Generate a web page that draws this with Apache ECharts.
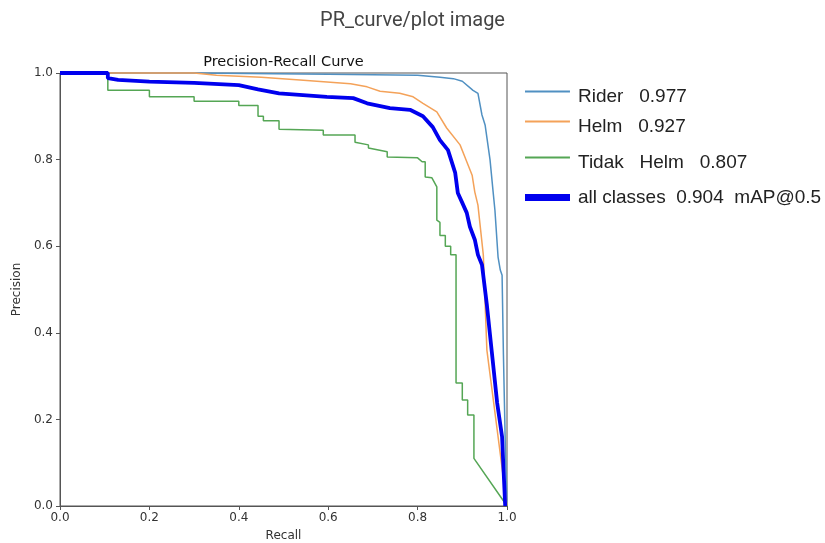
<!DOCTYPE html>
<html>
<head>
<meta charset="utf-8">
<script src="https://cdn.jsdelivr.net/npm/echarts@6/dist/echarts.min.js"></script>
<style>
html,body{margin:0;padding:0;background:#fff;}
#chart{width:825px;height:543px;}
</style>
</head>
<body>
<div id="chart"></div>
<script>
// Tick labels
var xTicks = [0.0, 0.2, 0.4, 0.6, 0.8, 1.0];
var yTicks = [0.0, 0.2, 0.4, 0.6, 0.8, 1.0];

// Series names (legend)
var seriesNames = ['Rider   0.977', 'Helm   0.927', 'Tidak   Helm   0.807', 'all classes  0.904  mAP@0.5'];

// [recall, precision] pairs
var riderPR = [[0,1],[0.3,1],[0.6,0.997],[0.8,0.995],[0.85,0.99],[0.88,0.987],[0.9,0.981],[0.924,0.96],[0.935,0.953],[0.944,0.903],[0.951,0.88],[0.962,0.8],[0.969,0.725],[0.973,0.683],[0.98,0.575],[0.985,0.545],[0.989,0.533],[0.992,0.35],[0.996,0.15],[1.0,0.0]];

var helmPR = [[0,1],[0.3,1],[0.35,0.995],[0.45,0.99],[0.537,0.984],[0.65,0.975],[0.687,0.968],[0.716,0.958],[0.76,0.953],[0.79,0.945],[0.812,0.93],[0.843,0.91],[0.865,0.873],[0.895,0.834],[0.91,0.795],[0.922,0.764],[0.928,0.725],[0.935,0.695],[0.947,0.58],[0.955,0.36],[1.0,0.0]];

var tidakHelmPR = [[0,1],[0.107,1],[0.107,0.96],[0.2,0.96],[0.2,0.945],[0.3,0.945],[0.3,0.935],[0.4,0.935],[0.4,0.925],[0.443,0.925],[0.443,0.9],[0.455,0.9],[0.455,0.89],[0.49,0.89],[0.49,0.87],[0.589,0.868],[0.589,0.857],[0.66,0.857],[0.66,0.84],[0.69,0.834],[0.69,0.827],[0.732,0.818],[0.732,0.806],[0.8,0.804],[0.81,0.795],[0.817,0.795],[0.817,0.76],[0.832,0.758],[0.843,0.737],[0.843,0.66],[0.85,0.655],[0.85,0.625],[0.862,0.625],[0.862,0.6],[0.874,0.6],[0.874,0.58],[0.886,0.58],[0.886,0.284],[0.9,0.284],[0.9,0.245],[0.912,0.245],[0.912,0.21],[0.926,0.21],[0.926,0.11],[1.0,0.0]];

var allClassesPR = [[0,1],[0.107,1],[0.107,0.988],[0.13,0.984],[0.2,0.98],[0.3,0.977],[0.4,0.972],[0.443,0.962],[0.49,0.953],[0.597,0.945],[0.656,0.942],[0.687,0.93],[0.738,0.919],[0.783,0.915],[0.812,0.9],[0.834,0.875],[0.85,0.845],[0.868,0.822],[0.884,0.77],[0.89,0.723],[0.9,0.7],[0.91,0.677],[0.917,0.645],[0.928,0.615],[0.935,0.58],[0.944,0.557],[0.955,0.464],[0.966,0.356],[0.978,0.238],[0.989,0.16],[0.992,0.09],[0.996,0.0]];

var colors = ['#5090c2', '#f4a259', '#55a655', '#0000ee'];
var widths = [1.5, 1.5, 1.5, 3.8];
var seriesData = [riderPR, helmPR, tidakHelmPR, allClassesPR];

var chart = echarts.init(document.getElementById('chart'));

// thin legend line drawn at top of a taller box so the label sits a bit lower
var thinIcon = 'path://M0,0L45,0L45,2L0,2Z M0,12L0.01,12L0.01,12.01Z';
var legendTops = [82, 112, 148, 183];
var legends = seriesNames.map(function (n, i) {
  var thick = i === 3;
  return {
    data: [n],
    left: 520,
    top: legendTops[i],
    orient: 'vertical',
    icon: thick ? 'rect' : thinIcon,
    itemWidth: 45,
    itemHeight: thick ? 7 : 12,
    selectedMode: false,
    textStyle: {
      fontFamily: 'Liberation Sans, Arial, sans-serif',
      fontSize: 19,
      color: '#222',
      padding: [0, 0, 0, 3]
    }
  };
});

var series = seriesNames.map(function (n, i) {
  return {
    name: n,
    type: 'line',
    data: seriesData[i],
    showSymbol: false,
    symbol: 'none',
    color: colors[i],
    lineStyle: { color: colors[i], width: widths[i] },
    z: i === 3 ? 5 : 2,
    clip: false
  };
});

var fmt = function (v) { return Number(v).toFixed(1); };

chart.setOption({
  animation: false,
  backgroundColor: '#fff',
  title: {
    text: 'PR_curve/plot image',
    left: 'center',
    top: 6,
    textStyle: { fontFamily: 'Roboto, sans-serif', fontSize: 20, fontWeight: 'normal', color: '#444' }
  },
  graphic: [{
    type: 'text',
    x: 283.5,
    y: 62,
    style: {
      text: 'Precision-Recall Curve',
      align: 'center',
      verticalAlign: 'middle',
      font: '14.5px "DejaVu Sans", sans-serif',
      fill: '#111'
    }
  }],
  legend: legends,
  grid: {
    left: 60, right: 318, top: 73, bottom: 37,
    show: true, borderColor: '#555', borderWidth: 1, backgroundColor: 'transparent',
    containLabel: false,
    outerBoundsMode: 'none'
  },
  xAxis: {
    type: 'value', min: 0, max: 1, interval: 0.2,
    name: 'Recall', nameLocation: 'middle', nameGap: 24,
    nameTextStyle: { fontFamily: 'DejaVu Sans, sans-serif', fontSize: 12, color: '#333' },
    axisLine: { show: true, lineStyle: { color: '#555', width: 1 } },
    axisTick: { show: true, inside: false, length: 4, lineStyle: { color: '#555' } },
    axisLabel: { formatter: fmt, margin: 6, fontFamily: 'DejaVu Sans, sans-serif', fontSize: 12, color: '#333' },
    splitLine: { show: false }
  },
  yAxis: {
    type: 'value', min: 0, max: 1, interval: 0.2,
    name: 'Precision', nameLocation: 'middle', nameGap: 31,
    nameTextStyle: { fontFamily: 'DejaVu Sans, sans-serif', fontSize: 12, color: '#333' },
    axisLine: { show: true, lineStyle: { color: '#555', width: 1 } },
    axisTick: { show: true, inside: false, length: 4, lineStyle: { color: '#555' } },
    axisLabel: { formatter: fmt, margin: 7, fontFamily: 'DejaVu Sans, sans-serif', fontSize: 12, color: '#333' },
    splitLine: { show: false }
  },
  series: series
});
</script>
</body>
</html>
